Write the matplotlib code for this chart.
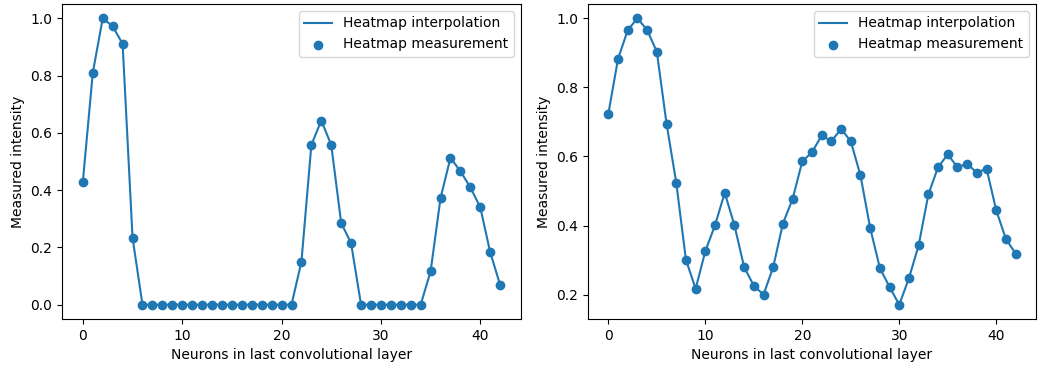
import matplotlib
matplotlib.use("Agg")
import matplotlib.pyplot as plt
import numpy as np

neurons = list(range(43))
left_values = [0.43, 0.81, 1.0, 0.972, 0.911, 0.234,
               0, 0, 0, 0, 0, 0, 0, 0, 0, 0, 0, 0, 0, 0, 0, 0,
               0.15, 0.558, 0.643, 0.558, 0.286, 0.214,
               0, 0, 0, 0, 0, 0, 0,
               0.116, 0.372, 0.513, 0.466, 0.41, 0.34, 0.183, 0.069]
right_values = [0.724, 0.883, 0.966, 1.0, 0.966, 0.903, 0.695, 0.524, 0.301, 0.217,
                0.326, 0.401, 0.495, 0.401, 0.28, 0.226, 0.2, 0.28, 0.406, 0.477,
                0.586, 0.612, 0.661, 0.644, 0.68, 0.644, 0.545, 0.393, 0.277, 0.222,
                0.171, 0.248, 0.343, 0.49, 0.569, 0.606, 0.569, 0.579, 0.553, 0.565,
                0.444, 0.361, 0.319]

xlabel = "Neurons in last convolutional layer"
ylabel = "Measured intensity"
line_label = "Heatmap interpolation"
scatter_label = "Heatmap measurement"

fig = plt.figure(figsize=(10.38, 3.69), dpi=100)
ax1 = fig.add_axes([62/1038, 50/369, (521-62)/1038, 315/369])
ax2 = fig.add_axes([588/1038, 50/369, (1036-588)/1038, 315/369])

for ax, vals in ((ax1, left_values), (ax2, right_values)):
    ax.plot(neurons, vals, color="C0", label=line_label)
    ax.scatter(neurons, vals, color="C0", label=scatter_label)
    ax.set_xlabel(xlabel)
    ax.set_ylabel(ylabel)
    ax.legend(loc="upper right")

fig.savefig("out.png", dpi=100)
